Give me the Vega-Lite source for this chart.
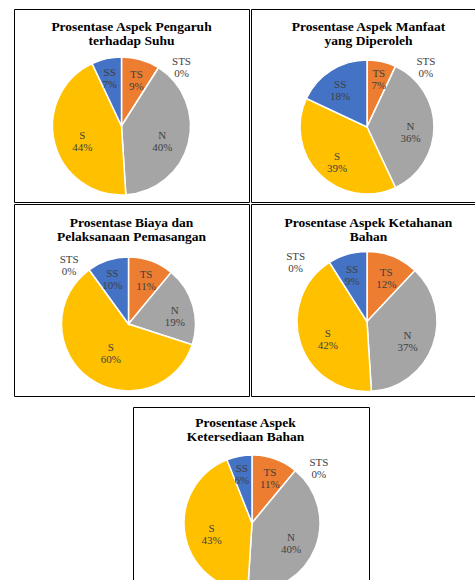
{
  "$schema": "https://vega.github.io/schema/vega-lite/v6.json",
  "padding": {"left": 13, "top": 8, "right": 0, "bottom": 0},
  "background": "white",
  "spacing": 0,
  "config": {
    "concat": {"spacing": 0},
    "title": {"font": "Liberation Serif", "fontSize": 13.5, "fontWeight": "bold", "color": "#000000", "anchor": "middle", "frame": "group", "baseline": "bottom", "lineHeight": 14.5},
    "text": {"font": "Liberation Serif", "fontSize": 11, "color": "#404040", "align": "center", "baseline": "middle", "lineHeight": 12, "lineBreak": "\n"},
    "arc": {"stroke": "#ffffff", "strokeWidth": 1.5}
  },
  "datasets": {
    "c1": [{"k": "TS", "v": 9, "o": 1}, {"k": "STS", "v": 0, "o": 2}, {"k": "N", "v": 40, "o": 3}, {"k": "S", "v": 44, "o": 4}, {"k": "SS", "v": 7, "o": 5}],
    "c2": [{"k": "TS", "v": 7, "o": 1}, {"k": "STS", "v": 0, "o": 2}, {"k": "N", "v": 36, "o": 3}, {"k": "S", "v": 39, "o": 4}, {"k": "SS", "v": 18, "o": 5}],
    "c3": [{"k": "TS", "v": 11, "o": 1}, {"k": "N", "v": 19, "o": 2}, {"k": "S", "v": 60, "o": 3}, {"k": "STS", "v": 0, "o": 4}, {"k": "SS", "v": 10, "o": 5}],
    "c4": [{"k": "TS", "v": 12, "o": 1}, {"k": "N", "v": 37, "o": 2}, {"k": "S", "v": 42, "o": 3}, {"k": "STS", "v": 0, "o": 4}, {"k": "SS", "v": 9, "o": 5}],
    "c5": [{"k": "TS", "v": 11, "o": 1}, {"k": "STS", "v": 0, "o": 2}, {"k": "N", "v": 40, "o": 3}, {"k": "S", "v": 43, "o": 4}, {"k": "SS", "v": 6, "o": 5}]
  },
  "vconcat": [
    {
      "hconcat": [
        {
          "width": 235, "height": 193,
          "view": {"stroke": "#000000", "strokeWidth": 1},
          "data": {"name": "c1"},
          "title": {"text": ["Prosentase Aspek Pengaruh", "terhadap  Suhu"], "offset": -38.8, "dx": 0},
          "encoding": {"theta": {"field": "v", "type": "quantitative", "stack": true}, "order": {"field": "o", "type": "quantitative"}},
          "layer": [
            {"mark": {"type": "arc", "outerRadius": 69, "xOffset": -10, "yOffset": 20.5},
             "encoding": {"color": {"field": "k", "type": "nominal", "legend": null, "scale": {"domain": ["STS", "TS", "N", "S", "SS"], "range": ["#5B9BD5", "#ED7D31", "#A5A5A5", "#FFC000", "#4472C4"]}}}},
            {"transform": [{"calculate": "datum.k === 'STS' ? '' : datum.k + '\\n' + datum.v + '%'", "as": "lab"}],
             "mark": {"type": "text", "xOffset": -10, "yOffset": 20.5},
             "encoding": {"text": {"field": "lab"}, "radius": {"field": "v", "type": "quantitative", "scale": {"type": "linear", "zero": false, "domain": [0, 60], "range": [56.7, 34.7]}}}},
            {"transform": [{"calculate": "datum.k === 'STS' ? datum.k + '\\n' + datum.v + '%' : ''", "as": "lab"}],
             "mark": {"type": "text", "radius": 88, "thetaOffset": 0.185, "xOffset": -10, "yOffset": 20.5},
             "encoding": {"text": {"field": "lab"}}}
          ]
        },
        {
          "width": 227, "height": 193,
          "view": {"stroke": "#000000", "strokeWidth": 1},
          "data": {"name": "c2"},
          "title": {"text": ["Prosentase Aspek Manfaat", "yang Diperoleh"], "offset": -38.8, "dx": 4},
          "encoding": {"theta": {"field": "v", "type": "quantitative", "stack": true}, "order": {"field": "o", "type": "quantitative"}},
          "layer": [
            {"mark": {"type": "arc", "outerRadius": 67, "xOffset": 2.5, "yOffset": 21.5},
             "encoding": {"color": {"field": "k", "type": "nominal", "legend": null, "scale": {"domain": ["STS", "TS", "N", "S", "SS"], "range": ["#5B9BD5", "#ED7D31", "#A5A5A5", "#FFC000", "#4472C4"]}}}},
            {"transform": [{"calculate": "datum.k === 'STS' ? '' : datum.k + '\\n' + datum.v + '%'", "as": "lab"}],
             "mark": {"type": "text", "xOffset": 2.5, "yOffset": 21.5},
             "encoding": {"text": {"field": "lab"}, "radius": {"field": "v", "type": "quantitative", "scale": {"type": "linear", "zero": false, "domain": [0, 60], "range": [56.7, 34.7]}}}},
            {"transform": [{"calculate": "datum.k === 'STS' ? datum.k + '\\n' + datum.v + '%' : ''", "as": "lab"}],
             "mark": {"type": "text", "radius": 88, "thetaOffset": 0.293, "xOffset": 2.5, "yOffset": 21.5},
             "encoding": {"text": {"field": "lab"}}}
          ]
        }
      ],
      "spacing": 0
    },
    {
      "hconcat": [
        {
          "width": 235, "height": 192,
          "view": {"stroke": "#000000", "strokeWidth": 1},
          "data": {"name": "c3"},
          "title": {"text": ["Prosentase Biaya dan", "Pelaksanaan Pemasangan"], "offset": -39.5, "dx": 0},
          "encoding": {"theta": {"field": "v", "type": "quantitative", "stack": true}, "order": {"field": "o", "type": "quantitative"}},
          "layer": [
            {"mark": {"type": "arc", "outerRadius": 67, "xOffset": -3, "yOffset": 24},
             "encoding": {"color": {"field": "k", "type": "nominal", "legend": null, "scale": {"domain": ["STS", "TS", "N", "S", "SS"], "range": ["#5B9BD5", "#ED7D31", "#A5A5A5", "#FFC000", "#4472C4"]}}}},
            {"transform": [{"calculate": "datum.k === 'STS' ? '' : datum.k + '\\n' + datum.v + '%'", "as": "lab"}],
             "mark": {"type": "text", "xOffset": -3, "yOffset": 24},
             "encoding": {"text": {"field": "lab"}, "radius": {"field": "v", "type": "quantitative", "scale": {"type": "linear", "zero": false, "domain": [0, 60], "range": [56.7, 30]}}}},
            {"transform": [{"calculate": "datum.k === 'STS' ? datum.k + '\\n' + datum.v + '%' : ''", "as": "lab"}],
             "mark": {"type": "text", "radius": 87, "thetaOffset": -0.122, "xOffset": -3, "yOffset": 24},
             "encoding": {"text": {"field": "lab"}}}
          ]
        },
        {
          "width": 227, "height": 192,
          "view": {"stroke": "#000000", "strokeWidth": 1},
          "data": {"name": "c4"},
          "title": {"text": ["Prosentase Aspek Ketahanan", "Bahan"], "offset": -39.5, "dx": 4},
          "encoding": {"theta": {"field": "v", "type": "quantitative", "stack": true}, "order": {"field": "o", "type": "quantitative"}},
          "layer": [
            {"mark": {"type": "arc", "outerRadius": 70, "xOffset": 2.5, "yOffset": 21.5},
             "encoding": {"color": {"field": "k", "type": "nominal", "legend": null, "scale": {"domain": ["STS", "TS", "N", "S", "SS"], "range": ["#5B9BD5", "#ED7D31", "#A5A5A5", "#FFC000", "#4472C4"]}}}},
            {"transform": [{"calculate": "datum.k === 'STS' ? '' : datum.k + '\\n' + datum.v + '%'", "as": "lab"}],
             "mark": {"type": "text", "xOffset": 2.5, "yOffset": 21.5},
             "encoding": {"text": {"field": "lab"}, "radius": {"field": "v", "type": "quantitative", "scale": {"type": "linear", "zero": false, "domain": [0, 60], "range": [56.7, 34.7]}}}},
            {"transform": [{"calculate": "datum.k === 'STS' ? datum.k + '\\n' + datum.v + '%' : ''", "as": "lab"}],
             "mark": {"type": "text", "radius": 96, "thetaOffset": -0.272, "xOffset": 2.5, "yOffset": 21.5},
             "encoding": {"text": {"field": "lab"}}}
          ]
        }
      ],
      "spacing": 0
    },
    {
      "hconcat": [
        {
          "width": 118, "height": 187,
          "data": {"values": [{}]},
          "mark": {"type": "point", "opacity": 0},
          "view": {"stroke": "transparent", "strokeWidth": 0}
        },
        {
          "width": 236, "height": 187,
          "view": {"stroke": "#000000", "strokeWidth": 1},
          "data": {"name": "c5"},
          "title": {"text": ["Prosentase Aspek", "Ketersediaan Bahan"], "offset": -36.5, "dx": -5.5},
          "encoding": {"theta": {"field": "v", "type": "quantitative", "stack": true}, "order": {"field": "o", "type": "quantitative"}},
          "layer": [
            {"mark": {"type": "arc", "outerRadius": 68, "xOffset": 1, "yOffset": 22.5},
             "encoding": {"color": {"field": "k", "type": "nominal", "legend": null, "scale": {"domain": ["STS", "TS", "N", "S", "SS"], "range": ["#5B9BD5", "#ED7D31", "#A5A5A5", "#FFC000", "#4472C4"]}}}},
            {"transform": [{"calculate": "datum.k === 'STS' ? '' : datum.k + '\\n' + datum.v + '%'", "as": "lab"}],
             "mark": {"type": "text", "xOffset": 1, "yOffset": 22.5},
             "encoding": {"text": {"field": "lab"}, "radius": {"field": "v", "type": "quantitative", "scale": {"type": "linear", "zero": false, "domain": [0, 60], "range": [56.7, 34.7]}}}},
            {"transform": [{"calculate": "datum.k === 'STS' ? datum.k + '\\n' + datum.v + '%' : ''", "as": "lab"}],
             "mark": {"type": "text", "radius": 90, "thetaOffset": 0.147, "xOffset": 1, "yOffset": 22.5},
             "encoding": {"text": {"field": "lab"}}}
          ]
        }
      ],
      "spacing": 0
    }
  ]
}
